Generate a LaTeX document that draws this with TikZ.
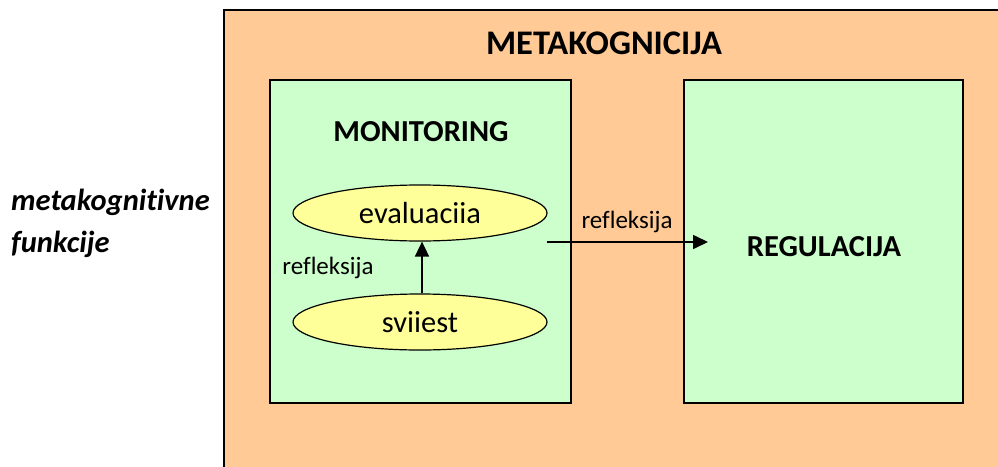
\documentclass[tikz,border=0pt]{standalone}
\usepackage{fontspec}
\setmainfont{Carlito}[Ligatures=NoCommon]
\usetikzlibrary{shapes.geometric,arrows.meta}
\definecolor{orangebg}{HTML}{FFCA96}
\definecolor{greenbg}{HTML}{CCFFCC}
\definecolor{yellowbg}{HTML}{FFFF99}
\tikzset{
  greenbox/.style={draw=black, line width=2pt, fill=greenbg},
  oval/.style={ellipse, draw=black, line width=1.2pt, fill=yellowbg, minimum width=254pt, minimum height=56pt, inner sep=0pt, font=\fontsize{30.5}{36}\selectfont},
  boldlbl/.style={font=\fontsize{30.5}{36}\selectfont\bfseries, inner sep=0pt},
  smalllbl/.style={font=\fontsize{25}{30}\selectfont, inner sep=0pt},
  arr/.style={line width=1.6pt, -{Triangle[length=15pt,width=14pt]}}
}
\begin{document}
\begin{tikzpicture}[x=1pt,y=-1pt]
\useasboundingbox (0,0) rectangle (998,466);
\begin{scope}
\clip (0,0) rectangle (998,466);
\fill[orangebg] (224,10) rectangle (1010,480);
\draw[line width=2pt] (224,480) -- (224,10) -- (1010,10);
\end{scope}
\node[font=\fontsize{34.5}{40}\selectfont\bfseries, inner sep=0pt] (meta) at (604,43) {METAKOGNICIJA};
\node[greenbox, minimum width=301pt, minimum height=323pt, inner sep=0pt] (mon) at (420.5,241.5) {};
\node[greenbox, minimum width=279pt, minimum height=323pt, inner sep=0pt] (reg) at (823.5,241.5) {};
\node[boldlbl] (monl) at (421,132) {MONITORING};
\node[boldlbl] (regl) at (824,247) {REGULACIJA};
\node[oval] (eval) at (420,213) {evaluaciia};
\node[oval] (svi) at (420,322) {sviiest};
\draw[arr] (svi.north) ++(2,0) coordinate (s1) -- (s1 |- eval.south);
\node[smalllbl] (ref1) at (328,268) {refleksija};
\coordinate (a1) at (547,242);
\coordinate (a2) at (708,242);
\draw[arr] (a1) -- (a2);
\node[smalllbl] (ref2) at (627,222) {refleksija};
\node[font=\fontsize{30.5}{36}\selectfont\bfseries\itshape, anchor=west, inner sep=0pt] (mk1) at (11,202) {metakognitivne};
\node[font=\fontsize{30.5}{36}\selectfont\bfseries\itshape, anchor=west, inner sep=0pt] (mk2) at (11,244) {funkcije};
\end{tikzpicture}
\end{document}
